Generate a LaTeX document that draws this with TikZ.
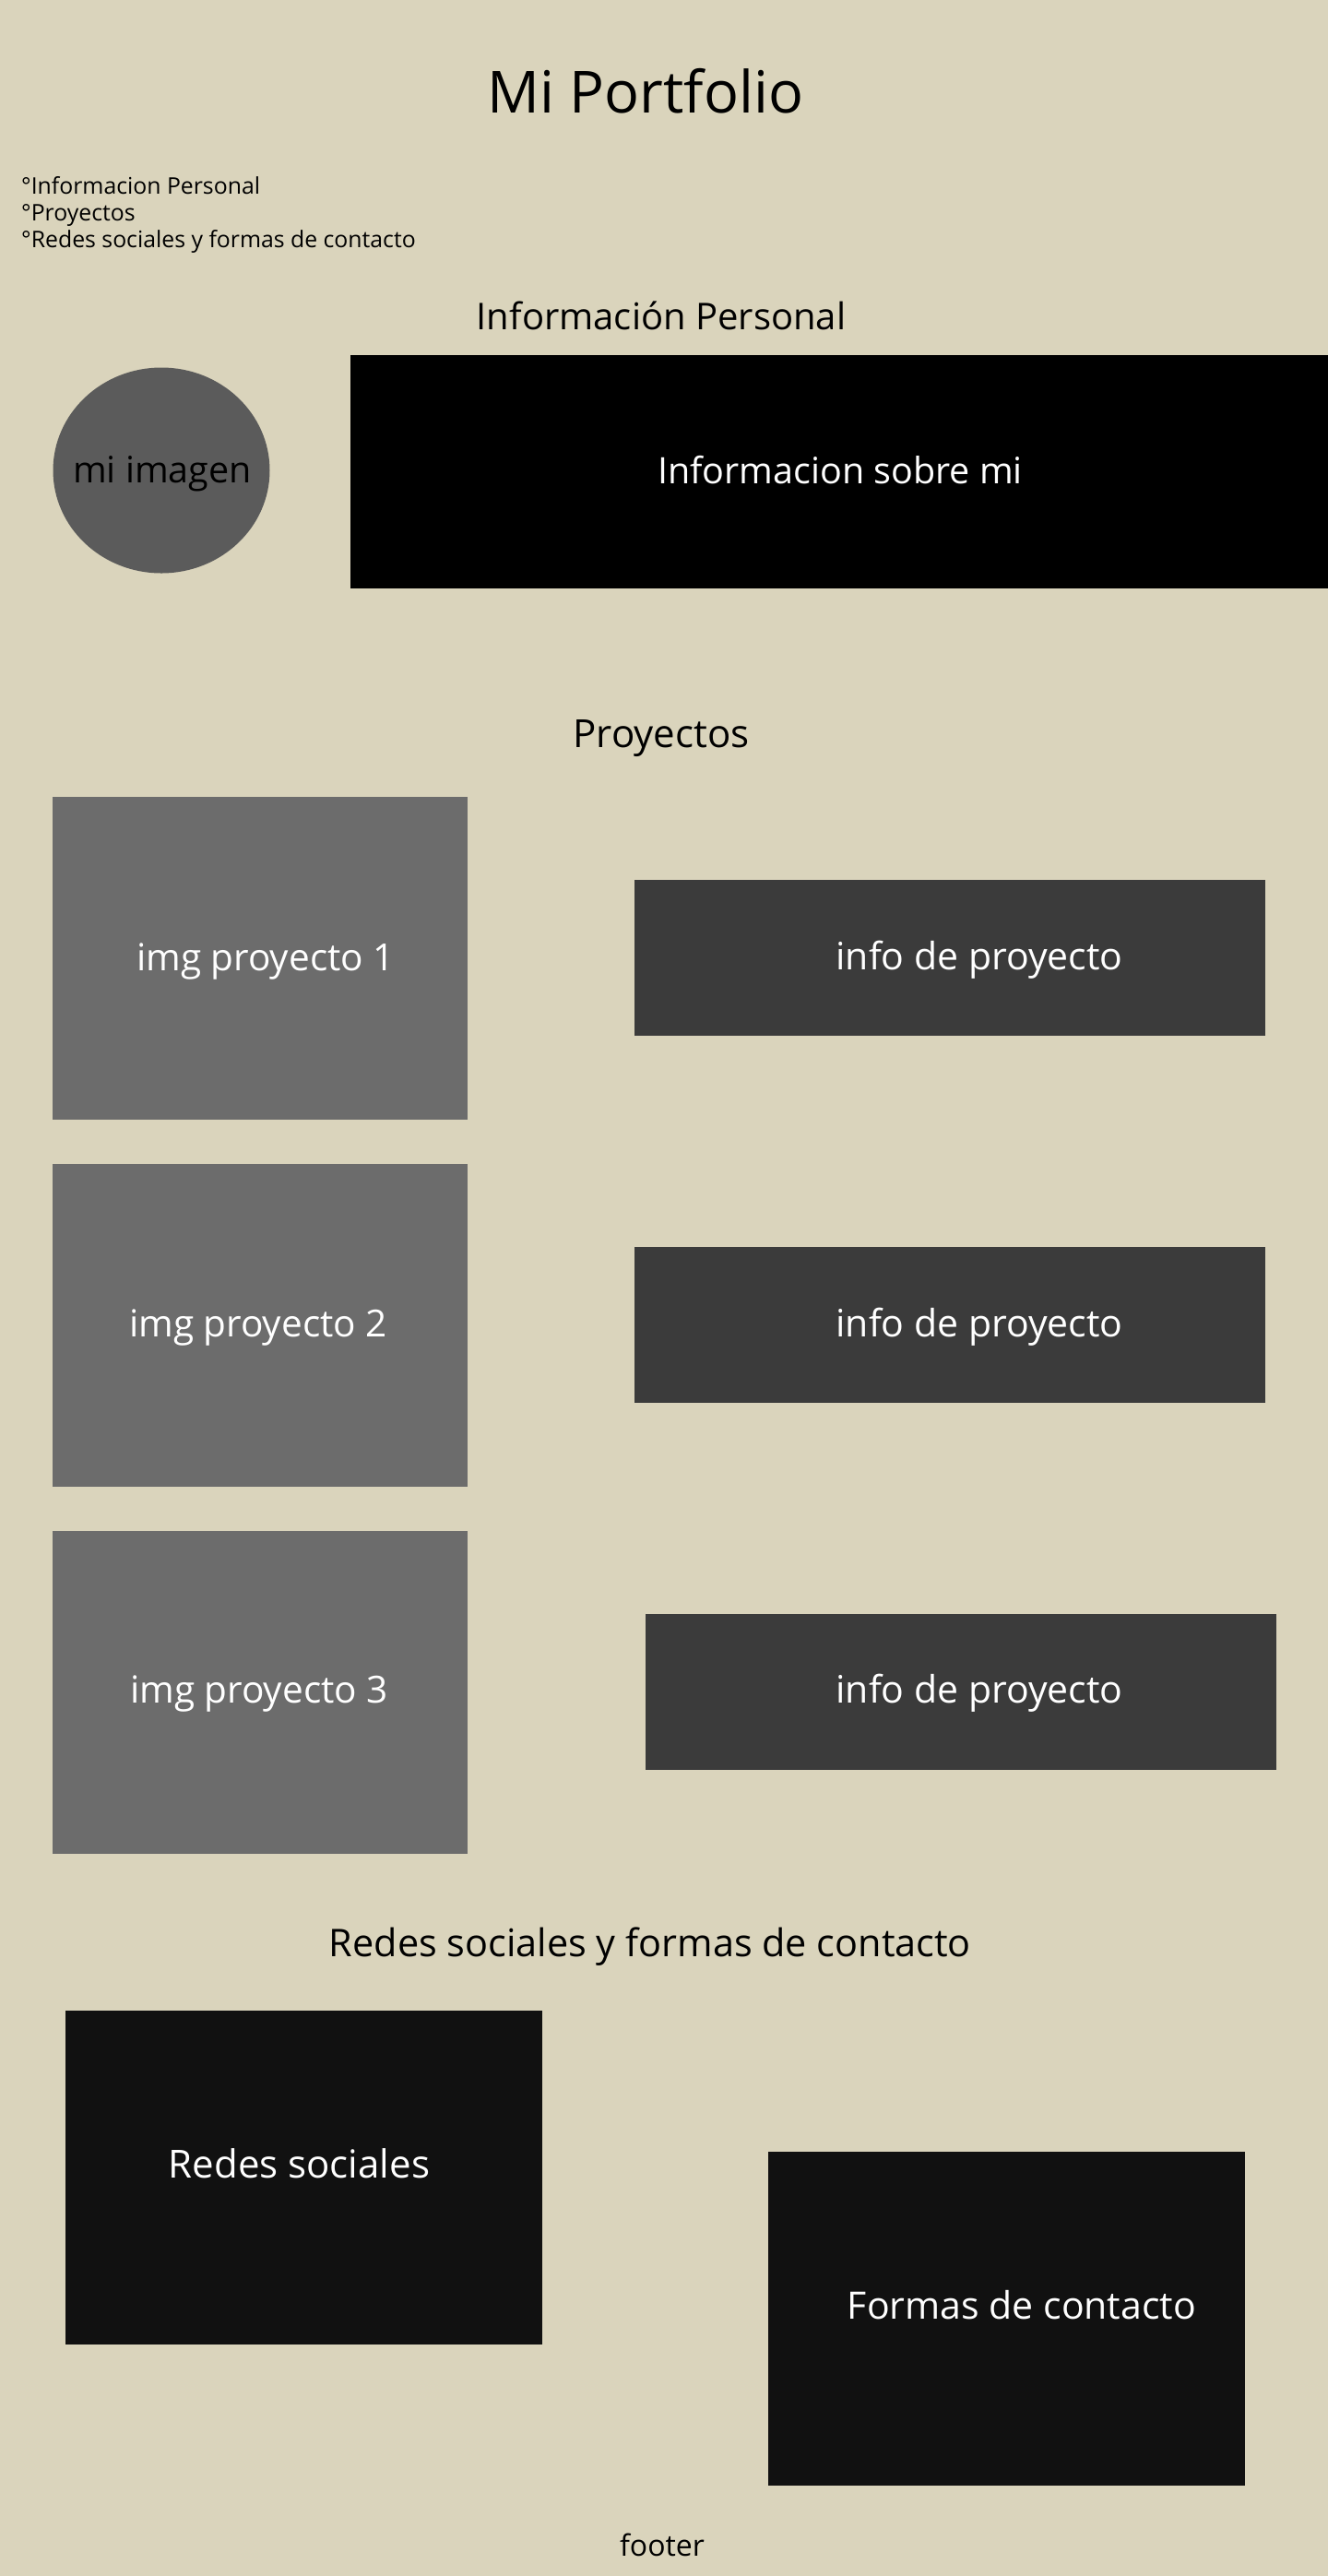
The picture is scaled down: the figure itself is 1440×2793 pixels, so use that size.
\documentclass[tikz,border=0pt]{standalone}
\usepackage{fontspec}
\setmainfont{Open Sans}
\usetikzlibrary{shapes.geometric}
\definecolor{fondo}{HTML}{DAD4BC}
\definecolor{grisfoto}{HTML}{5B5B5B}
\definecolor{grisimg}{HTML}{6C6C6C}
\definecolor{grisinfo}{HTML}{3B3B3B}
\definecolor{negro}{HTML}{111111}

\begin{document}
\begin{tikzpicture}[x=1pt,y=-1pt,
	texto/.style={anchor=base,inner sep=0pt,font=\fontsize{#1}{#1}\selectfont},
	imgbox/.style={fill=grisimg,minimum width=450pt,minimum height=350pt,inner sep=0pt},
	infobox/.style={fill=grisinfo,minimum width=684pt,minimum height=169pt,inner sep=0pt},
	redbox/.style={fill=negro,minimum width=517pt,minimum height=362pt,inner sep=0pt}]
	\fill[fondo] (0,0) rectangle (1440,2793);
	\useasboundingbox (0,0) rectangle (1440,2793);
	% cabecera
	\node[texto=63] (titulo) at (700,122) {Mi Portfolio};
	\node[texto=24.8,anchor=base west] (idx1) at (23,210) {°Informacion Personal};
	\node[texto=24.8,anchor=base west] (idx2) at (23,239) {°Proyectos};
	\node[texto=24.8,anchor=base west] (idx3) at (23,268) {°Redes sociales y formas de contacto};
	% informacion personal
	\node[texto=40] (personal) at (717,357) {Información Personal};
	\node[ellipse,fill=grisfoto,minimum width=235pt,minimum height=223pt] (foto) at (175,510) {};
	\node[texto=39.5] (fototxt) at (176,523) {mi imagen};
	\node[fill=black,minimum width=1060pt,minimum height=253pt,inner sep=0pt] (sobremi) at (910,511.5) {};
	\node[texto=39.5,white] (sobremitxt) at (911,524) {Informacion sobre mi};
	% proyectos
	\node[texto=42] (proyectos) at (717,810) {Proyectos};
	\node[imgbox] (img1) at (282,1039) {};
	\node[texto=40.5,white] (img1txt) at (288,1052) {img proyecto 1};
	\node[infobox] (info1) at (1030,1038.5) {};
	\node[texto=41,white] (info1txt) at (1062,1051) {info de proyecto};
	\node[imgbox] (img2) at (282,1437) {};
	\node[texto=40.5,white] (img2txt) at (280,1449) {img proyecto 2};
	\node[infobox] (info2) at (1030,1436.5) {};
	\node[texto=41,white] (info2txt) at (1062,1449) {info de proyecto};
	\node[imgbox] (img3) at (282,1835) {};
	\node[texto=40.5,white] (img3txt) at (281,1846) {img proyecto 3};
	\node[infobox] (info3) at (1042,1834.5) {};
	\node[texto=41,white] (info3txt) at (1062,1846) {info de proyecto};
	% redes y contacto
	\node[texto=41.4] (contacto) at (705,2121) {Redes sociales y formas de contacto};
	\node[redbox] (redes) at (329.5,2360.5) {};
	\node[texto=42,white] (redestxt) at (324.5,2361) {Redes sociales};
	\node[redbox] (formas) at (1091.5,2513.5) {};
	\node[texto=41,white] (formastxt) at (1108,2514) {Formas de contacto};
	\node[texto=32] (footer) at (718,2771) {footer};
\end{tikzpicture}
\end{document}
